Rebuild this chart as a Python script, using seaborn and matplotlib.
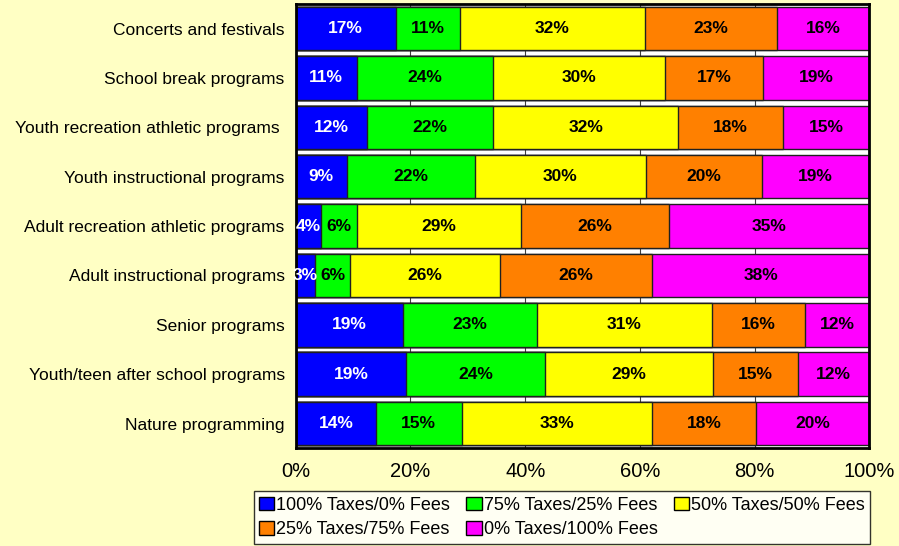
import matplotlib
matplotlib.use("Agg")
import matplotlib.pyplot as plt
import numpy as np
import seaborn as sns
from matplotlib.patches import Patch

programs = ["Concerts and festivals", "School break programs",
            "Youth recreation athletic programs ", "Youth instructional programs",
            "Adult recreation athletic programs", "Adult instructional programs",
            "Senior programs", "Youth/teen after school programs",
            "Nature programming"]

series = ["100% Taxes/0% Fees", "75% Taxes/25% Fees", "50% Taxes/50% Fees",
          "25% Taxes/75% Fees", "0% Taxes/100% Fees"]

# shares (percent); labels are the rounded values
taxes100 = [17.4, 10.6, 12.4, 8.9, 4.4, 3.4, 18.7, 19.2, 14.0]
taxes75 = [11.2, 23.8, 22.0, 22.3, 6.2, 6.1, 23.3, 24.3, 14.9]
taxes50 = [32.3, 30.0, 32.3, 29.8, 28.6, 26.1, 30.6, 29.2, 33.2]
taxes25 = [23.0, 17.1, 18.2, 20.3, 25.8, 26.5, 16.1, 14.9, 18.2]
taxes0 = [16.1, 18.5, 15.1, 18.7, 35.0, 37.9, 11.3, 12.4, 19.7]

labels100 = [17, 11, 12, 9, 4, 3, 19, 19, 14]
labels75 = [11, 24, 22, 22, 6, 6, 23, 24, 15]
labels50 = [32, 30, 32, 30, 29, 26, 31, 29, 33]
labels25 = [23, 17, 18, 20, 26, 26, 16, 15, 18]
labels0 = [16, 19, 15, 19, 35, 38, 12, 12, 20]

colors = ["#0000FF", "#00FF00", "#FFFF00", "#FF8000", "#FF00FF"]
bg = "#FFFFC4"

vals = np.array([taxes100, taxes75, taxes50, taxes25, taxes0])
vals = vals / vals.sum(axis=0) * 100
labs = [labels100, labels75, labels50, labels25, labels0]
cum = np.cumsum(vals, axis=0)

sns.set_style("white")
plt.rcParams['font.family'] = ['Liberation Sans', 'DejaVu Sans']
plt.rcParams['text.color'] = 'black'
plt.rcParams['xtick.color'] = 'black'
plt.rcParams['ytick.color'] = 'black'

fig = plt.figure(figsize=(8.99, 5.46), dpi=100, facecolor=bg)
ax = fig.add_axes([0.329, 0.179, 0.638, 0.814])
ax.set_facecolor("white")

# draw cumulative layers from the longest to the shortest
for i in reversed(range(5)):
    sns.barplot(x=cum[i], y=programs, color=colors[i], orient="h", width=0.88,
                saturation=1, edgecolor="#202020", linewidth=1, ax=ax, zorder=2)

for i in range(5):
    left = cum[i] - vals[i]
    for j, p in enumerate(programs):
        ax.text(left[j] + vals[i][j] / 2, j, f"{labs[i][j]}%", ha="center", va="center",
                fontsize=12.5, fontweight="bold",
                color="white" if i == 0 else "black", zorder=3)

ax.set_xlim(0, 100)
ax.set_xticks([0, 20, 40, 60, 80, 100])
ax.set_xticklabels(["0%", "20%", "40%", "60%", "80%", "100%"], fontsize=14.5)
ax.xaxis.grid(True, color="#404040", linewidth=0.8, zorder=0)
ax.set_axisbelow(True)
ax.set_xlabel("")
ax.set_ylabel("")
ax.tick_params(axis="x", length=0, pad=10)
ax.tick_params(axis="y", length=0, pad=8, labelsize=12.5)
for s in ax.spines.values():
    s.set_visible(True)
    s.set_color("black")
    s.set_linewidth(2)

handles = [Patch(facecolor=c, edgecolor="black", linewidth=1, label=l)
           for c, l in zip(colors, series)]
order = [0, 3, 1, 4, 2]
leg = fig.legend([handles[k] for k in order], [series[k] for k in order],
                 loc="upper center", bbox_to_anchor=(0.625, 0.1), ncol=3,
                 fontsize=13, frameon=True, fancybox=False, edgecolor="black",
                 handlelength=0.85, handleheight=0.75, handletextpad=0.1,
                 columnspacing=0.9, labelspacing=0.42, borderpad=0.3, borderaxespad=0)
leg.get_frame().set_linewidth(1)
leg.get_frame().set_facecolor("white")

fig.savefig("out.png", dpi=100, facecolor=bg)
